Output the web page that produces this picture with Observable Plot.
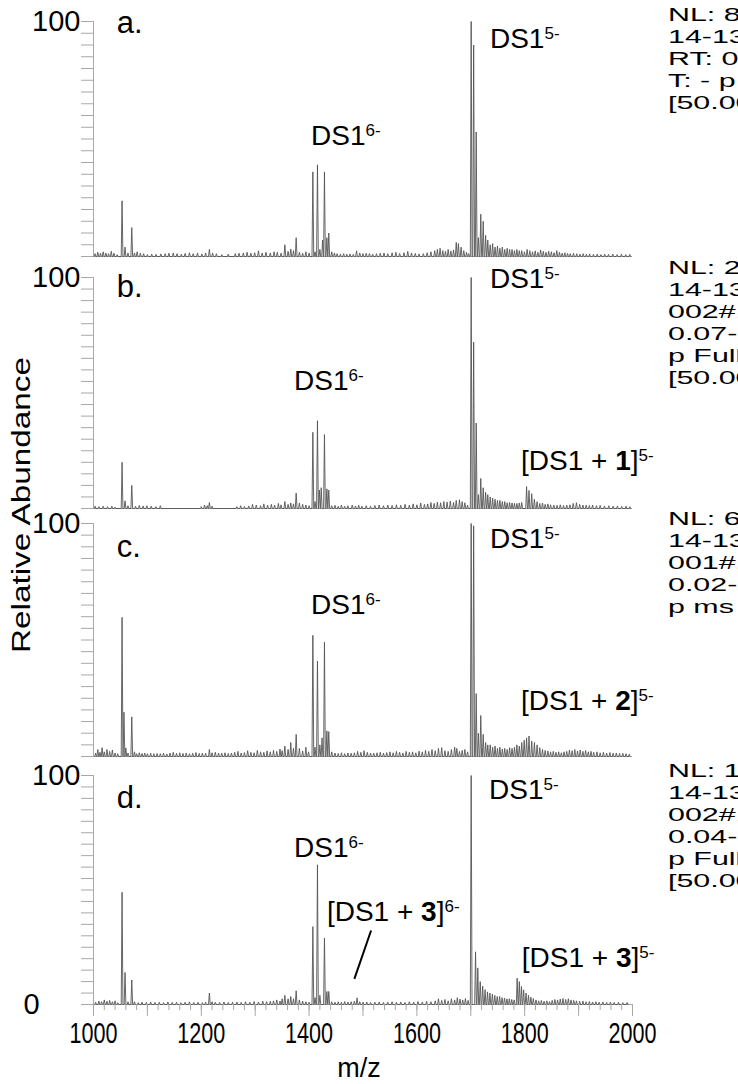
<!DOCTYPE html>
<html><head><meta charset="utf-8">
<script src="https://cdn.jsdelivr.net/npm/d3@7"></script>
<script src="https://cdn.jsdelivr.net/npm/@observablehq/plot@0.6"></script>
<style>
html,body{margin:0;padding:0;background:#fff;}
body{width:738px;height:1084px;overflow:hidden;position:relative;font-family:"Liberation Sans",Arial,sans-serif;}
#root{position:relative;width:738px;height:1084px;overflow:hidden;}
.panel{position:absolute;left:0;}
.nl{position:absolute;left:668px;font-size:19px;line-height:22px;white-space:nowrap;transform-origin:0 0;transform:scaleX(1.6);color:#000;}
.ylab{position:absolute;left:-139px;top:490px;width:320px;height:30px;line-height:30px;text-align:center;font-size:26px;transform:rotate(-90deg) scaleX(1.28);transform-origin:50% 50%;}
.xlab{position:absolute;left:309px;top:1055px;width:100px;line-height:26px;text-align:center;font-size:27px;}
</style></head><body>
<div id="root"></div>
<script>
// ---------- data: peak lists [m/z, relative abundance %] ----------
const peaksA = [[1003,1.2],[1008,1.8],[1013,1.4],[1018,2],[1023,1.5],[1028,1.2],[1033,2.2],[1038,1.4],[1044,0.8],
[1053,23.7],[1058.5,4],[1064,1.5],[1071,12.3],[1076,1.5],[1081,2],[1087,1.4],[1093,1.2],[1100,0.8],[1108,1],[1116,0.9],[1125,1.1],[1133,1.2],[1140,1.4],[1148,1.5],[1155,1.2],[1163,1],[1170,1.3],[1178,1.6],[1185,1.2],[1193,1.5],[1201,1.1],[1208,1.5],[1215,3],[1221,1.5],[1228,1.2],[1238,0.8],[1250,1],[1263,1.2],[1270,1.4],[1278,1.5],[1285,1.8],[1292,1.4],[1299,1.6],[1306,2.4],[1313,1.5],[1320,1.8],[1328,1.5],[1335,2],[1341,1.8],[1348,1.4],[1355,5],[1361,2.2],[1366,3.2],[1371,2.5],[1376,8],[1382,1.8],[1388,1.4],[1394,2],[1400,1.5],
[1407,36],[1411,2],[1415.5,39],[1420,3],[1425,7],[1428.5,36],[1433,8],[1436.5,10],[1442,2],[1447,1.5],[1452,1.2],[1458,1],[1464,1.2],[1470,1],[1476,1.1],[1482,0.9],[1488,2.4],[1494,1.5],[1500,1.2],[1506,1.4],[1512,1.3],[1518,1],[1525,1.2],[1532,1.4],[1539,1.5],[1546,1.2],[1554,1.6],[1561,1.8],[1568,1.3],[1576,1.6],[1583,2.2],[1590,1.5],[1597,1.3],[1604,1.1],[1612,1.2],[1619,1.6],[1626,2],[1633,2.5],[1638,3],[1643,3.5],[1648,2.5],[1653,2.2],[1658,3],[1663,2.4],[1668,2.8],[1673,6],[1677,5.5],[1682,4],[1687,2.5],[1692,1.8],[1696,1.2],
[1700.7,100],[1705.3,90],[1710,53],[1714,8],[1718.5,18],[1723,15],[1727.5,9],[1731.5,7],[1736,5],[1740.5,5.5],[1745,4],[1749.5,4.5],[1754,3.5],[1758.5,4],[1763,3],[1767.5,3.5],[1772,3],[1776.5,3],[1781,2.5],[1785.5,3],[1790,2.5],[1794.5,2.5],[1799.5,2],[1804.5,3],[1809.5,2.5],[1814.5,2],[1819.5,2.4],[1824.5,1.8],[1829.5,2.8],[1834.5,2.2],[1839.5,1.8],[1844.5,2.2],[1849.5,2],[1854.5,1.6],[1859.5,2.5],[1864.5,1.8],[1869.5,1.4],[1874.5,1.6],[1879.5,1.3],[1884.5,1.2],[1890.5,1.4],[1896.5,1.2],[1902.5,1],[1908.5,1.2],[1914.5,1],[1920.5,1.1],[1927.5,0.9],[1934.5,1],[1941.5,0.8],[1948.5,1],[1955.5,0.9],[1963.5,1],[1971.5,0.8],[1979.5,1],[1987.5,0.8],[1995,0.9]];

const peaksB = [[1003,1],[1010,0.8],[1018,1],[1026,0.8],[1034,1],[1040,0.6],
[1053,20],[1058.5,3.3],[1064,1.2],[1071,10],[1078,1],[1085,1.3],[1092,1.1],[1099,1.2],[1107,1],[1116,0.8],[1124,1.2],
[1200,0.8],[1206,1.5],[1211,1.2],[1215,2.6],[1220,1],
[1266,0.8],[1273,1.2],[1280,0.9],[1288,1.1],[1295,1.8],[1302,1.5],[1310,1.2],[1316,2],[1323,1.5],[1330,1.8],[1336,1.5],[1343,2.2],[1348,1.6],[1355,3],[1361,1.8],[1366,2.4],[1371,2],[1376,6.7],[1382,2.4],[1388,1.8],[1394,1.5],[1400,1.2],
[1407,33],[1411,3],[1415.5,38],[1419,8],[1422.5,9],[1428.5,32],[1433,8.5],[1436.5,8],[1442,1.2],[1448,1.4],[1454,1],[1460,1.5],[1466,1],[1472,1.2],[1480,1.5],[1486,1.1],[1492,1.4],[1498,1],[1506,1.2],[1514,1],[1522,1.3],[1530,1.5],[1538,1.2],[1546,1.5],[1554,1.3],[1562,1.6],[1570,1.4],[1578,1.8],[1586,1.5],[1593,2],[1600,1.6],[1607,2.4],[1614,1.8],[1620,2],[1626,2.6],[1632,2.2],[1638,2.8],[1644,2.5],[1650,3],[1656,2.8],[1662,3.2],[1668,2.6],[1673,3.5],[1679,3.8],[1684,3],[1689,2.5],[1694,1.5],
[1700.7,100],[1705.3,72],[1710,37],[1714,6],[1718.5,13],[1723,9],[1727.5,7],[1731.5,6],[1736,5],[1740.5,4.5],[1745,4],[1749.5,3.5],[1754,3.5],[1758.5,3],[1763,3],[1767.5,2.5],[1772,2.6],[1776.5,2.4],[1781,2.2],[1785.5,2.2],[1790,2.4],[1794.5,2.6],
[1803.5,9.5],[1808,7.8],[1813,6.4],[1818,4],[1823,3],[1828,2.2],[1833,2.4],[1838,1.8],[1843,2],[1848,1.6],[1854,1.5],[1860,1.4],[1866,1.6],[1872,1.3],[1878,1.5],[1884,1.6],[1890,2.2],[1896,2.5],[1902,1.8],[1908,1.5],[1914,1.4],[1920,1.3],[1926,1.5],[1933,1.2],[1940,1.3],[1948,1.1],[1956,1.2],[1964,1],[1972,1.1],[1980,0.9],[1988,1],[1995,0.8]];

const peaksC = [[1004,1.5],[1008,3],[1012,1.8],[1016,3.8],[1020,2],[1025,3],[1030,2.2],[1035,2.8],[1040,1.5],[1045,1.2],
[1053,59.7],[1056.5,19],[1060,3.7],[1064,1.5],[1071,17],[1076,2],[1080,1.2],[1085,1.6],[1090,1.3],[1095,1.5],[1100,1.2],[1106,1.4],[1112,1.2],[1118,1.3],[1124,1.2],[1130,1.4],[1136,1.1],[1142,1.5],[1148,1.8],[1154,1.4],[1160,1.6],[1166,1.3],[1172,1.5],[1178,1.2],[1184,1.4],[1190,1.7],[1196,1.3],[1202,1.5],[1208,1.4],[1215,3],[1220,1.6],[1226,1.8],[1232,1.5],[1238,1.4],[1244,1.6],[1250,1.3],[1256,1.5],[1262,1.8],[1268,2.2],[1274,1.5],[1280,1.7],[1286,2.5],[1292,1.8],[1298,1.6],[1304,2.6],[1310,2],[1316,1.8],[1322,2.4],[1328,2],[1334,2.6],[1340,2.2],[1346,3.2],[1350,2.5],[1355,4.5],[1361,3],[1366,6],[1371,3.5],[1376,9.5],[1382,3.5],[1388,2.4],[1394,4],[1399,2],
[1407,52],[1411,4],[1415.5,41],[1420,5],[1424,8],[1428.5,49],[1433,11],[1436.5,10.7],[1442,2],[1448,1.5],[1454,1.3],[1460,1.6],[1466,1.2],[1472,1.5],[1478,1.4],[1484,1.6],[1490,2.2],[1496,1.8],[1502,2.5],[1508,1.8],[1514,1.5],[1520,1.4],[1526,1.6],[1532,1.8],[1538,1.5],[1544,1.7],[1550,2],[1556,1.6],[1562,2.2],[1568,1.8],[1574,1.5],[1580,2.2],[1586,1.8],[1592,2],[1598,1.6],[1604,2.3],[1610,2],[1616,2.6],[1622,2.2],[1628,3],[1634,2.5],[1640,3.5],[1646,3.8],[1652,2.5],[1658,2.2],[1664,3],[1670,4],[1674,3.5],[1679,2.2],[1684,2.6],[1689,3],[1694,2],
[1700.7,100],[1705.3,99],[1710,27],[1714,10],[1718.5,17.6],[1723,9.5],[1727.5,6],[1731.5,5],[1736,5],[1740.5,4],[1745,4.5],[1749.5,3.5],[1754,4],[1758.5,3.2],[1763,3.5],[1767.5,3],[1772,3.8],[1776.5,3.5],[1781,4],[1785.5,5],[1790,4.5],[1794.5,6],[1799,7],[1803.5,8],[1808,8.8],[1813,6.6],[1818,6],[1823,5],[1828,3.8],[1833,3],[1838,2.6],[1843,2.4],[1848,2],[1853,2.2],[1858,1.8],[1863,2],[1868,1.6],[1873,2],[1878,2.2],[1883,2.8],[1888,2.5],[1893,3],[1898,2.4],[1903,2.8],[1908,2.2],[1913,2.6],[1918,2],[1923,2.2],[1928,1.8],[1934,2],[1940,1.6],[1946,1.8],[1952,1.5],[1958,1.7],[1964,1.4],[1970,1.5],[1976,1.3],[1982,1.4],[1988,1.2],[1994,1]];

const peaksD = [[1004,1],[1010,1.5],[1015,1.2],[1020,2],[1025,1.4],[1030,1.8],[1035,1.2],[1040,1.6],[1045,0.8],
[1053,49],[1058.5,14],[1064,1.2],[1071,10.7],[1076,1.2],[1083,0.8],[1090,1],[1098,0.9],[1106,1.1],[1114,0.9],[1122,1],[1130,0.8],[1138,1.1],[1146,0.9],[1154,1],[1162,0.8],[1170,1],[1178,1.1],[1186,0.9],[1194,1],[1202,0.8],[1208,1],[1215,5],[1220,1.2],[1226,1],[1234,0.9],[1242,1.1],[1250,0.9],[1258,1],[1266,1.1],[1274,0.9],[1282,1.2],[1290,1],[1298,1.3],[1306,1.1],[1314,1.5],[1321,1.2],[1328,1.4],[1334,1.6],[1340,2],[1346,1.5],[1350,2.5],[1355,4],[1361,2.5],[1366,3.5],[1371,2.5],[1376,6],[1382,2],[1388,1.5],[1394,1.2],[1400,1],
[1407,34],[1411,3],[1415.5,61],[1420,4],[1428.5,29],[1433,5.7],[1436.5,5.7],[1442,1.2],[1448,1],[1454,1.2],[1460,1],[1466,1.3],[1472,1.1],[1478,1.2],[1484,1.4],[1489,2.9],[1494,1.2],[1500,1],[1507,1.1],[1514,0.9],[1522,1],[1530,1.1],[1538,0.9],[1546,1],[1554,1.2],[1562,1],[1570,1.1],[1578,0.9],[1586,1.2],[1594,1],[1602,1.3],[1610,1.1],[1618,1.4],[1626,1.2],[1634,1.6],[1640,2.5],[1646,1.8],[1652,2.2],[1658,1.6],[1664,2.5],[1670,2],[1675,3],[1680,2.4],[1685,2],[1690,2.6],[1695,1.8],
[1700.7,100],[1708.8,23],[1713,16],[1717.5,10],[1722,8],[1726.5,6.5],[1731,5.5],[1735.5,5],[1740,4.5],[1744.5,4],[1749,3.5],[1753.5,3.5],[1758,3],[1762.5,2.8],[1767,2.5],[1771.5,2.5],[1776,2.2],[1780.5,2],
[1786,11.5],[1790,10],[1794,7.9],[1798,6.4],[1802.5,5],[1807,4],[1811.5,3.2],[1816,2.6],[1821,2],[1826,1.6],[1831,1.8],[1836,1.4],[1841,1.6],[1846,1.3],[1851,1.8],[1856,2.2],[1861,2],[1866,2.4],[1871,2.6],[1876,2.2],[1881,2.5],[1886,2],[1891,1.8],[1896,1.6],[1902,1.4],[1908,1.5],[1914,1.2],[1920,1.3],[1926,1.1],[1932,1.2],[1938,1],[1945,1.1],[1952,0.9],[1959,1],[1966,0.9],[1974,1],[1982,0.8],[1990,0.9]];

// axis ticks
const yTicks = [0,5,10,15,20,25,30,35,40,45,50,55,60,65,70,75,80,85,90,95,100];
const yLabelTicks = [100];
const zeroLabel = ["0"];
const xMinorTicks = [1000,1020,1040,1060,1080,1100,1120,1140,1160,1180,1200,1220,1240,1260,1280,1300,1320,1340,1360,1380,1400,1420,1440,1460,1480,1500,1520,1540,1560,1580,1600,1620,1640,1660,1680,1700,1720,1740,1760,1780,1800,1820,1840,1860,1880,1900,1920,1940,1960,1980,2000];
const xMajorTicks = [1000,1100,1200,1300,1400,1500,1600,1700,1800,1900,2000];
const xLabelTicks = [1000,1200,1400,1600,1800,2000];

// annotations: [panel, m/z, abundance (baseline), kind, parts]
const annotations = [
  ["a",1044,94.9,"panel",[["a.","n"]]],
  ["a",1736.5,88.3,"ion",[["DS1","n"],["5-","s"]]],
  ["a",1404.5,47.4,"ion",[["DS1","n"],["6-","s"]]],
  ["b",1044,91.3,"panel",[["b.","n"]]],
  ["b",1736.5,95.2,"ion",[["DS1","n"],["5-","s"]]],
  ["b",1373,51,"ion",[["DS1","n"],["6-","s"]]],
  ["b",1794,16.5,"ion",[["[DS1 + ","n"],["1","b"],["]","n"],["5-","s"]]],
  ["c",1044,85.4,"panel",[["c.","n"]]],
  ["c",1736.5,89.3,"ion",[["DS1","n"],["5-","s"]]],
  ["c",1404.5,61.1,"ion",[["DS1","n"],["6-","s"]]],
  ["c",1794,19.7,"ion",[["[DS1 + ","n"],["2","b"],["]","n"],["5-","s"]]],
  ["d",1044,85.6,"panel",[["d.","n"]]],
  ["d",1734.7,89.5,"ion",[["DS1","n"],["5-","s"]]],
  ["d",1373,64.2,"ion",[["DS1","n"],["6-","s"]]],
  ["d",1434,36.2,"ion",[["[DS1 + ","n"],["3","b"],["]","n"],["6-","s"]]],
  ["d",1795.4,16.2,"ion",[["[DS1 + ","n"],["3","b"],["]","n"],["5-","s"]]]
];
const pointerD = [{x1:1515,y1:32.3,x2:1484,y2:11.2}];

// instrument header text, clipped at the right edge
const nlA = ["NL: 8.27E5","14-1322_DS1","RT: 0.00-0.50","T: - p ESI Full ms","[50.00-2000.00]"];
const nlB = ["NL: 2.13E5","14-1322_DS1_1","002#1-50 RT:","0.07-0.52 AV: 50","p Full ms","[50.00-2000.00]"];
const nlC = ["NL: 6.47E5","14-1322_DS1_2","001#1-50 RT:","0.02-0.48 AV: 50","p ms"];
const nlD = ["NL: 1.05E6","14-1322_DS1_3","002#1-50 RT:","0.04-0.50 AV: 50","p Full ms","[50.00-2000.00]"];

// ---------- rendering ----------
const HW = 1.6; // half width of each profile peak in m/z
function profile(peaks) {
  const pts = [];
  for (const [m, h] of peaks.slice().sort((a, b) => a[0] - b[0])) {
    pts.push({mz: m - HW, ab: 0}, {mz: m, ab: h}, {mz: m + HW, ab: 0});
  }
  return pts;
}

const root = document.getElementById("root");
const FONT = "'Liberation Sans', Arial, sans-serif";

const panels = [
  {key:"a", peaks:peaksA, y100:21, y0:256, nl:nlA, nlTop:4},
  {key:"b", peaks:peaksB, y100:277, y0:508, nl:nlB, nlTop:257},
  {key:"c", peaks:peaksC, y100:523, y0:756, nl:nlC, nlTop:508},
  {key:"d", peaks:peaksD, y100:775, y0:1004, nl:nlD, nlTop:760, last:true}
];

for (const p of panels) {
  const mt = 21, mb = p.last ? 80 : 8;
  const h = p.y0 - p.y100;
  const marks = [
    Plot.ruleY([0], {stroke: "#a8a8a8"}),
    Plot.ruleX([1000], {stroke: "#a8a8a8"}),
    Plot.axisY(yTicks, {tickSize: 12, stroke: "#a8a8a8", tickFormat: () => "", label: null}),
    Plot.axisY(yLabelTicks, {tickSize: 12, tickPadding: 1, stroke: "#a8a8a8", fill: "#000", fontSize: 29, label: null}),
    Plot.line(profile(p.peaks), {x: "mz", y: "ab", stroke: "#555", strokeWidth: 0.9})
  ];
  if (p.last) {
    marks.push(
      Plot.text(zeroLabel, {x: () => 1000, y: () => 0, text: d => d, dx: -62, fontSize: 29, textAnchor: "middle", fill: "#000"}),
      Plot.axisX(xMinorTicks, {tickSize: 6, stroke: "#a8a8a8", tickFormat: () => "", label: null}),
      Plot.axisX(xMajorTicks, {tickSize: 12, tickPadding: 5, stroke: "#a8a8a8", fill: "#000", fontSize: 30, label: null,
        tickFormat: d => xLabelTicks.includes(d) ? String(d) : ""}),
      Plot.link(pointerD, {x1: "x1", y1: "y1", x2: "x2", y2: "y2", stroke: "#000", strokeWidth: 2})
    );
  }
  const plot = Plot.plot({
    width: 738, height: mt + h + mb,
    marginTop: mt, marginBottom: mb, marginLeft: 93, marginRight: 106,
    x: {domain: [1000, 2000], axis: p.last ? undefined : null},
    y: {domain: [0, 100]},
    style: {background: "transparent", fontFamily: FONT, fontSize: "25px", overflow: "visible"},
    marks
  });
  const wrap = document.createElement("div");
  wrap.className = "panel";
  wrap.style.top = (p.y100 - mt) + "px";
  wrap.appendChild(plot);
  root.appendChild(wrap);

  // condensed look of the m/z tick labels (scale each label about its own anchor)
  d3.select(plot).selectAll('g[aria-label="x-axis tick label"] text').each(function () {
    const tr = this.getAttribute("transform") || "";
    const x = +this.getAttribute("x") || 0, y = +this.getAttribute("y") || 0;
    this.setAttribute("transform", `${tr} translate(${x},${y}) scale(0.72,1) translate(${-x},${-y})`);
  });

  // annotations with superscripts placed through the plot's own scales
  const sx = plot.scale("x"), sy = plot.scale("y");
  const svg = d3.select(plot);
  for (const [panel, mz, ab, kind, parts] of annotations) {
    if (panel !== p.key) continue;
    const t = svg.append("text")
      .attr("x", sx.apply(mz)).attr("y", sy.apply(ab))
      .attr("text-anchor", "start")
      .attr("font-family", FONT).attr("font-size", kind === "panel" ? 31 : 28).attr("fill", "#000");
    for (const [s, style] of parts) {
      const ts = t.append("tspan").text(s);
      if (style === "b") ts.attr("font-weight", "bold");
      if (style === "s") ts.attr("font-size", 17).attr("dy", -9);
    }
  }

  const nl = document.createElement("div");
  nl.className = "nl";
  nl.style.top = p.nlTop + "px";
  nl.innerHTML = p.nl.map(s => `<div>${s}</div>`).join("");
  root.appendChild(nl);
}

const yl = document.createElement("div");
yl.className = "ylab"; yl.textContent = "Relative Abundance";
root.appendChild(yl);
const xl = document.createElement("div");
xl.className = "xlab"; xl.textContent = "m/z";
root.appendChild(xl);
</script>
</body></html>
